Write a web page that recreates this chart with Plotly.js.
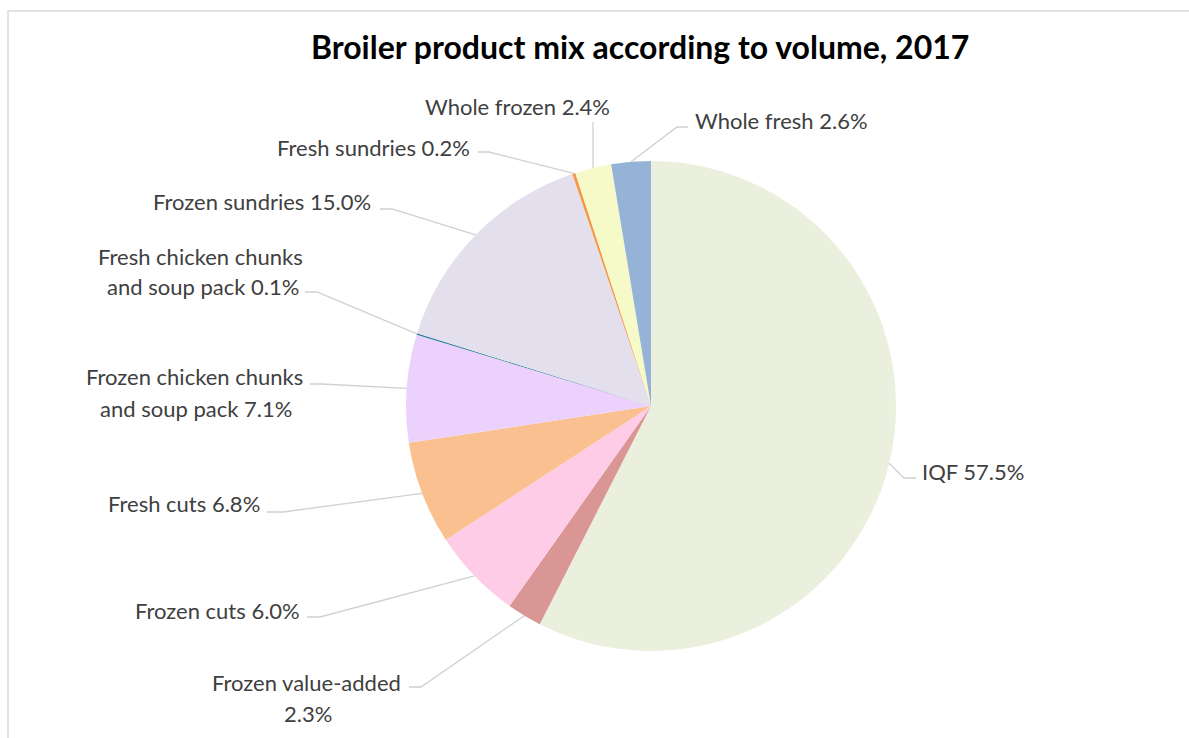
<!DOCTYPE html>
<html>
<head>
<meta charset="utf-8">
<script src="https://cdn.plot.ly/plotly-3.0.1.min.js"></script>
<style>html,body{margin:0;padding:0;background:#fff;}#chart{width:1189px;height:738px;}</style>
</head>
<body>
<div id="chart"></div>
<script>
// ---- data ----
const categories = ['IQF', 'Frozen value-added', 'Frozen cuts', 'Fresh cuts',
  'Frozen chicken chunks and soup pack', 'Fresh chicken chunks and soup pack',
  'Frozen sundries', 'Fresh sundries', 'Whole frozen', 'Whole fresh'];
const shares = [57.5, 2.3, 6.0, 6.8, 7.1, 0.1, 15.0, 0.2, 2.4, 2.6];
const titleText = 'Broiler product mix according to volume, 2017';

// ---- styles / layout ----
const colors = ['#EBF0DE', '#D99694', '#FFCCE8', '#FAC090', '#EBD1FB',
  '#31859C', '#E4DFEC', '#F79646', '#F5FAC8', '#95B3D7'];
const W = 1189, H = 738;
const CX = 651, CY = 406, R = 245;
const wrapWords = [0, 2, 0, 0, 3, 3, 0, 0, 0, 0];
// label anchor (first line), anchor side, elbow and end of leader line (pixels)
const labelX = [920, 403, 302, 262, 305, 305, 373, 472, 612, 693];
const labelY = [471, 682, 610, 503, 377, 256, 201, 147, 106, 121];
const labelSide = ['left', 'right', 'right', 'right', 'right', 'right', 'right', 'right', 'right', 'left'];
const elbowPt = [[904,478],[421,687],[320,617],[283,512],[322,384],[317,292],[392,209],[489,152],[593,122],[677,127]];
const endPt = [[916,478],[409,687],[307,617],[267,512],[310,384],[305,292],[380,209],[478,152],[593,122],[688,127]];
const LINE_H = 31;
const FONT = 'Lato, "Open Sans", sans-serif';
const FSIZE = 22;

const px = x => x / W;
const py = y => 1 - y / H;

// approximate text width measurement for centering wrapped lines
const cvs = document.createElement('canvas').getContext('2d');
cvs.font = FSIZE + 'px Lato';
const tw = s => cvs.measureText(s).width;

const total = shares.reduce((a, b) => a + b, 0);
const annotations = [];
const shapes = [];
let cum = 0;
shares.forEach((v, i) => {
  const mid = (cum + v / 2) / total * 2 * Math.PI;
  cum += v;
  const sx = CX + R * Math.sin(mid), sy = CY - R * Math.cos(mid);
  const e = elbowPt[i], t = endPt[i];
  shapes.push({type: 'path', xref: 'paper', yref: 'paper',
    path: `M${px(sx)},${py(sy)} L${px(e[0])},${py(e[1])} L${px(t[0])},${py(t[1])}`,
    line: {color: '#D0D0D0', width: 1.3}});
  const full = categories[i] + ' ' + v.toFixed(1) + '%';
  let lines = [full];
  if (wrapWords[i]) {
    const words = full.split(' ');
    lines = [words.slice(0, wrapWords[i]).join(' '), words.slice(wrapWords[i]).join(' ')];
  }
  const w0 = tw(lines[0]);
  lines.forEach((ln, k) => {
    let x = labelX[i], anchor = labelSide[i];
    if (k > 0) {
      // center subsequent lines under the first line
      x = labelSide[i] === 'right' ? labelX[i] - w0 / 2 : labelX[i] + w0 / 2;
      anchor = 'center';
    }
    annotations.push({xref: 'paper', yref: 'paper', x: px(x), y: py(labelY[i] + k * LINE_H),
      xanchor: anchor, yanchor: 'middle', showarrow: false,
      text: ln, font: {family: FONT, size: FSIZE, color: '#404040'}});
  });
});

const trace = {
  type: 'pie', labels: categories, values: shares, sort: false,
  direction: 'clockwise', rotation: 0, textinfo: 'none', hoverinfo: 'label+percent',
  marker: {colors: colors, line: {width: 0}},
  domain: {x: [px(CX - R), px(CX + R)], y: [py(CY + R), py(CY - R)]},
  showlegend: false
};

shapes.push({type: 'rect', xref: 'paper', yref: 'paper', x0: px(8), y0: py(745), x1: px(1196), y1: py(11),
  line: {color: '#D9D9D9', width: 1.5}});

annotations.push({xref: 'paper', yref: 'paper', x: px(640), y: py(47), xanchor: 'center', yanchor: 'middle',
  showarrow: false, text: '<b>' + titleText + '</b>', font: {family: FONT, size: 32, color: '#000000'}});

const layout = {
  width: W, height: H, margin: {l: 0, r: 0, t: 0, b: 0},
  paper_bgcolor: '#ffffff', showlegend: false,
  annotations: annotations, shapes: shapes
};
Plotly.newPlot('chart', [trace], layout, {displayModeBar: false, staticPlot: true});
</script>
</body>
</html>
